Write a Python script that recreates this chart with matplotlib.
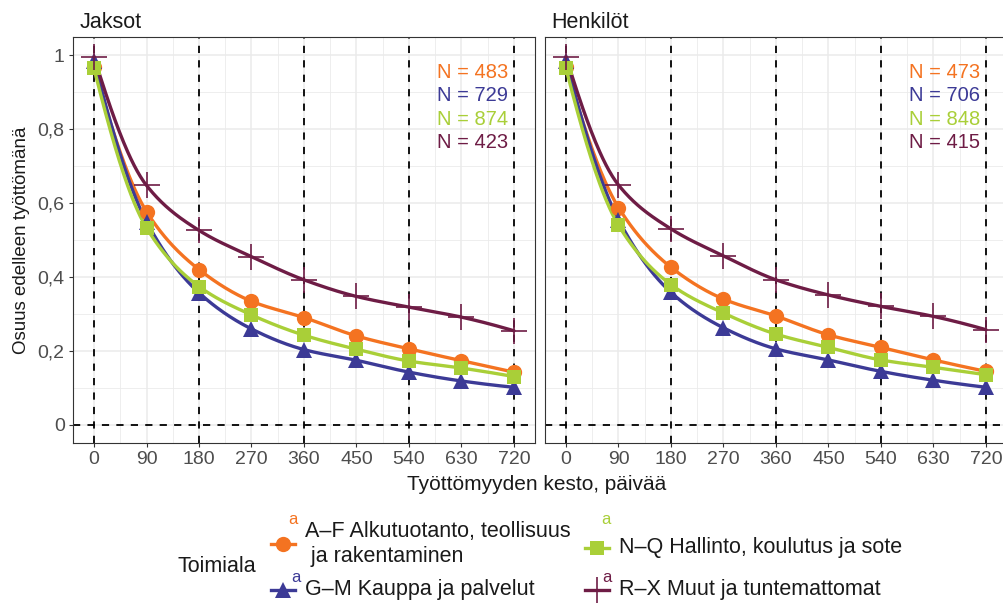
import matplotlib
import numpy as np

matplotlib.use("Agg")
import matplotlib.pyplot as plt
from matplotlib.lines import Line2D

plt.rcParams["font.family"] = ["Liberation Sans", "DejaVu Sans"]

days = [0, 90, 180, 270, 360, 450, 540, 630, 720]
ref_days = [0, 180, 360, 540, 720]
panels = ["Jaksot", "Henkilöt"]
groups = [
    "A–F Alkutuotanto, teollisuus\n ja rakentaminen",
    "G–M Kauppa ja palvelut",
    "N–Q Hallinto, koulutus ja sote",
    "R–X Muut ja tuntemattomat",
]
colors = ["#F47321", "#3C3A96", "#A9CF38", "#6E1C45"]
markers = ["o", "^", "s", "+"]
marker_sizes = [11, 12, 9.5, 19]

jaksot_af = [0.970, 0.577, 0.420, 0.334, 0.290, 0.240, 0.205, 0.173, 0.142]
jaksot_gm = [0.985, 0.550, 0.357, 0.259, 0.203, 0.174, 0.142, 0.118, 0.101]
jaksot_nq = [0.965, 0.533, 0.374, 0.297, 0.242, 0.204, 0.172, 0.153, 0.130]
jaksot_rx = [0.997, 0.648, 0.526, 0.455, 0.392, 0.347, 0.318, 0.291, 0.254]

henkilot_af = [0.970, 0.588, 0.426, 0.340, 0.294, 0.243, 0.209, 0.175, 0.144]
henkilot_gm = [0.985, 0.555, 0.358, 0.262, 0.205, 0.175, 0.144, 0.120, 0.101]
henkilot_nq = [0.965, 0.540, 0.379, 0.302, 0.245, 0.209, 0.175, 0.155, 0.135]
henkilot_rx = [0.997, 0.649, 0.530, 0.457, 0.392, 0.351, 0.320, 0.293, 0.257]

n_jaksot = [483, 729, 874, 423]
n_henkilot = [473, 706, 848, 415]

panel_series = [
    [jaksot_af, jaksot_gm, jaksot_nq, jaksot_rx],
    [henkilot_af, henkilot_gm, henkilot_nq, henkilot_rx],
]
panel_n = [n_jaksot, n_henkilot]

W, H = 1004, 603


def px_rect(left, top, right, bottom):
    return [left / W, 1 - bottom / H, (right - left) / W, (bottom - top) / H]


def pchip(x, y, xs):
    # monotone cubic used only to draw the smooth curve between the read points
    x = np.asarray(x, float)
    y = np.asarray(y, float)
    h = np.diff(x)
    delta = np.diff(y) / h
    d = np.zeros_like(y)
    for k in range(1, len(x) - 1):
        if delta[k - 1] * delta[k] > 0:
            w1 = 2 * h[k] + h[k - 1]
            w2 = h[k] + 2 * h[k - 1]
            d[k] = (w1 + w2) / (w1 / delta[k - 1] + w2 / delta[k])
    d[0] = ((2 * h[0] + h[1]) * delta[0] - h[0] * delta[1]) / (h[0] + h[1])
    if np.sign(d[0]) != np.sign(delta[0]):
        d[0] = 0
    d[-1] = ((2 * h[-1] + h[-2]) * delta[-1] - h[-1] * delta[-2]) / (h[-1] + h[-2])
    if np.sign(d[-1]) != np.sign(delta[-1]):
        d[-1] = 0
    idx = np.clip(np.searchsorted(x, xs) - 1, 0, len(x) - 2)
    t = (xs - x[idx]) / h[idx]
    h00 = 2 * t**3 - 3 * t**2 + 1
    h10 = t**3 - 2 * t**2 + t
    h01 = -2 * t**3 + 3 * t**2
    h11 = t**3 - t**2
    return h00 * y[idx] + h10 * h[idx] * d[idx] + h01 * y[idx + 1] + h11 * h[idx] * d[idx + 1]


fig = plt.figure(figsize=(W / 100, H / 100), dpi=100)
axes = [
    fig.add_axes(px_rect(73, 37, 535, 443)),
    fig.add_axes(px_rect(545, 37, 1007, 443)),
]

xs = np.linspace(days[0], days[-1], 400)

for p, ax in enumerate(axes):
    ax.set_xlim(-36, 756)
    ax.set_ylim(-0.05, 1.05)
    ax.set_xticks(days)
    ax.set_xticks([d + 45 for d in days[:-1]], minor=True)
    ax.set_yticks([0, 0.2, 0.4, 0.6, 0.8, 1.0])
    ax.set_yticks([0.1, 0.3, 0.5, 0.7, 0.9], minor=True)
    ax.grid(True, which="major", color="#EBEBEB", linewidth=1.1, zorder=0)
    ax.grid(True, which="minor", color="#EBEBEB", linewidth=0.6, zorder=0)
    ax.set_axisbelow(True)
    for spine in ax.spines.values():
        spine.set_color("#333333")
        spine.set_linewidth(0.8)
    ax.tick_params(which="major", length=3, width=0.8, color="#333333",
                   labelsize=14, labelcolor="#4D4D4D", pad=3)
    ax.tick_params(which="minor", length=0)
    ax.set_xticklabels([str(d) for d in days])
    if p == 0:
        ax.set_yticklabels(["0", "0,2", "0,4", "0,6", "0,8", "1"])
    else:
        ax.set_yticklabels([])
        ax.tick_params(axis="y", which="major", length=0)

    for d in ref_days:
        ax.axvline(d, color="black", linestyle=(0, (4, 4)), linewidth=1.3, zorder=1)
    ax.axhline(0, color="black", linestyle=(0, (4, 4)), linewidth=1.3, zorder=1)

    for i, vals in enumerate(panel_series[p]):
        ax.plot(xs, pchip(days, vals, xs), color=colors[i], linewidth=2.4,
                zorder=2 + i * 0.1, solid_capstyle="round")
        ax.plot(days, vals, linestyle="none", marker=markers[i], color=colors[i],
                markersize=marker_sizes[i],
                markeredgewidth=1.2 if markers[i] == "+" else 0,
                zorder=3 + i * 0.1)

    for i, n in enumerate(panel_n[p]):
        ax.text(710, 0.955 - i * 0.064, f"N = {n}", color=colors[i],
                fontsize=14.5, ha="right", va="center", zorder=5)

    ax.text(0.014, 1.022, panels[p], transform=ax.transAxes, fontsize=15.5,
            ha="left", va="baseline", color="#1A1A1A")

fig.text(537 / W, 1 - 485 / H, "Työttömyyden kesto, päivää", fontsize=15,
         ha="center", va="center", color="#1A1A1A")
fig.text(22 / W, 1 - 240 / H, "Osuus edelleen työttömänä", fontsize=13.5,
         ha="center", va="center", rotation=90, color="#1A1A1A")

# legend, drawn by hand so the small "a" labels can sit next to the keys
fig.text(178 / W, 1 - 567 / H, "Toimiala", fontsize=15.5, ha="left", va="center",
         color="#1A1A1A")
key_pos = [(283, 544), (283, 590), (597, 548), (597, 590)]
a_pos = [(293, 520), (296, 578), (606, 519), (607, 578)]
for i, label in enumerate(groups):
    kx, ky = key_pos[i]
    fy = 1 - ky / H
    fig.add_artist(Line2D([(kx - 12) / W, (kx + 12) / W], [fy, fy],
                          transform=fig.transFigure, color=colors[i], linewidth=2.4))
    fig.add_artist(Line2D([kx / W], [fy], transform=fig.transFigure,
                          marker=markers[i], color=colors[i],
                          markersize=marker_sizes[i],
                          markeredgewidth=1.2 if markers[i] == "+" else 0,
                          linestyle="none"))
    ax_, ay_ = a_pos[i]
    fig.text(ax_ / W, 1 - ay_ / H, "a", color=colors[i], fontsize=12,
             ha="center", va="center")
    fig.text((kx + 22) / W, fy, label, fontsize=15.5, ha="left", va="center",
             color="#1A1A1A", linespacing=1.25)

fig.savefig("out.png", dpi=100)
